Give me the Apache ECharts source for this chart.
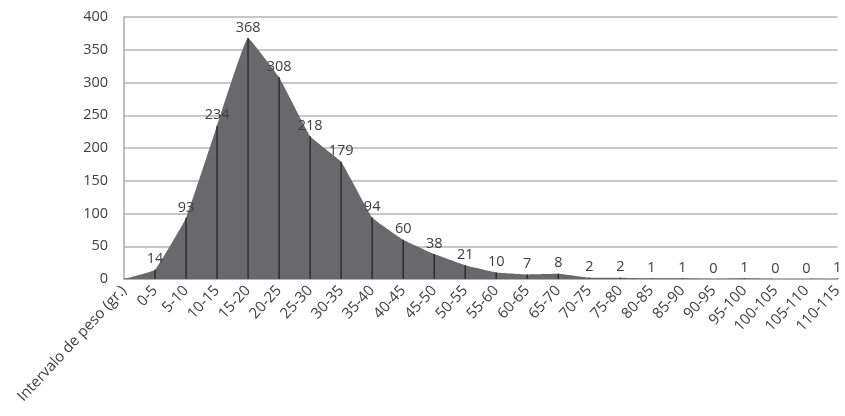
<!DOCTYPE html>
<html><head><meta charset="utf-8">
<script src="https://cdn.jsdelivr.net/npm/echarts@6/dist/echarts.min.js"></script>
<style>html,body{margin:0;padding:0;background:#fff}#c{width:845px;height:416px}</style>
</head><body><div id="c"></div>
<script>
const categories = ["Intervalo de peso (gr.)","0-5","5-10","10-15","15-20","20-25","25-30","30-35","35-40","40-45","45-50","50-55","55-60","60-65","65-70","70-75","75-80","80-85","85-90","90-95","95-100","100-105","105-110","110-115"];
const counts = [0,14,93,234,368,308,218,179,94,60,38,21,10,7,8,2,2,1,1,0,1,0,0,1];
const showLabel = categories.map((c,i)=> i>0);
const yTicks = {min:0,max:400,interval:50};

const chart = echarts.init(document.getElementById('c'), null, {renderer:'canvas'});
const font = '"Open Sans", sans-serif';
chart.setOption({
  animation:false,
  grid:{left:124,right:7,top:17,bottom:137},
  xAxis:{type:'category',data:categories,boundaryGap:false,
    axisLine:{lineStyle:{color:'#aaaaaa',width:1.5}},
    axisTick:{show:false},
    axisLabel:{rotate:47,interval:0,color:'#404040',fontSize:15,fontFamily:font,margin:9}},
  yAxis:{type:'value',min:yTicks.min,max:yTicks.max,interval:yTicks.interval,
    axisLine:{show:true,lineStyle:{color:'#aaaaaa',width:1.5}},
    axisTick:{show:false},
    splitLine:{lineStyle:{color:'#b4b4b4',width:1.5}},
    axisLabel:{color:'#404040',fontSize:14.5,fontFamily:font,margin:16}},
  series:[
    {type:'line',data:counts,smooth:0.08,symbol:'circle',symbolSize:0.1,showSymbol:true,
     itemStyle:{color:'#69696c'},
     lineStyle:{width:0},areaStyle:{color:'#69696c',opacity:1},
     label:{show:true,position:'top',color:'#404040',fontSize:14.5,fontFamily:font,distance:3,
       formatter:p=> showLabel[p.dataIndex] ? String(p.value) : ''},z:2},
    {type:'bar',data:counts,barWidth:1.5,itemStyle:{color:'#2e2e2e'},z:3,silent:true}
  ]
});
</script></body></html>
